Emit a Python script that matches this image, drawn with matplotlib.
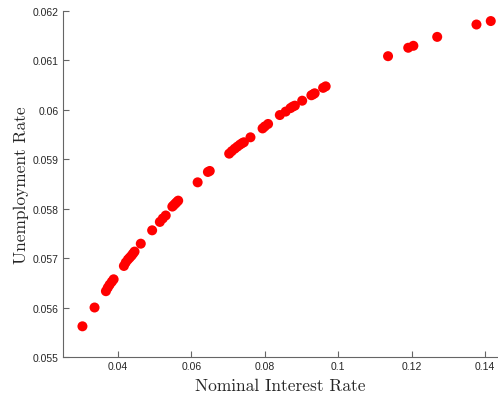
import matplotlib
matplotlib.use("Agg")
import matplotlib.pyplot as plt
from matplotlib.ticker import FuncFormatter, MultipleLocator

# Simulated steady states: nominal interest rate vs unemployment rate
nominal_rate = [
    0.0303, 0.0336, 0.0367, 0.0372, 0.0377, 0.0383, 0.0388,
    0.0416, 0.0421, 0.0427, 0.0432, 0.0437, 0.0441, 0.0445,
    0.0462, 0.0493, 0.0514, 0.0522, 0.0530,
    0.0548, 0.0552, 0.0556, 0.0560, 0.0564,
    0.0617, 0.0645, 0.0650,
    0.0703, 0.0710, 0.0718, 0.0725, 0.0732, 0.0738, 0.0743, 0.0761,
    0.0794, 0.0800, 0.0809, 0.0841, 0.0857, 0.0870, 0.0876, 0.0882,
    0.0902, 0.0927, 0.0932, 0.0936, 0.0959, 0.0966,
    0.1136, 0.1191, 0.1205, 0.1270, 0.1377, 0.1416,
]
unemployment = [
    0.05562, 0.05600, 0.05633, 0.05640, 0.05646, 0.05652, 0.05657,
    0.05684, 0.05691, 0.05697, 0.05701, 0.05705, 0.05709, 0.05713,
    0.05729, 0.05756, 0.05773, 0.05780, 0.05786,
    0.05804, 0.05807, 0.05810, 0.05813, 0.05816,
    0.05853, 0.05874, 0.05876,
    0.05911, 0.05916, 0.05921, 0.05925, 0.05929, 0.05932, 0.05934, 0.05944,
    0.05962, 0.05966, 0.05971, 0.05989, 0.05996, 0.06003, 0.06006, 0.06008,
    0.06018, 0.06029, 0.06031, 0.06033, 0.06044, 0.06047,
    0.06108, 0.06125, 0.06129, 0.06147, 0.06172, 0.06179,
]

fig = plt.figure(figsize=(4.98, 4.02), dpi=100)
ax = fig.add_axes([0.1265, 0.1095, 0.8715, 0.8615])

ax.scatter(nominal_rate, unemployment, s=52, color="#ff0000", edgecolors="none", zorder=3)

ax.set_xlim(0.025, 0.1433)
ax.set_ylim(0.055, 0.062)
ax.xaxis.set_major_locator(MultipleLocator(0.02))
ax.yaxis.set_major_locator(MultipleLocator(0.001))
fmt = FuncFormatter(lambda v, pos: "%g" % round(v, 6))
ax.xaxis.set_major_formatter(fmt)
ax.yaxis.set_major_formatter(fmt)

# box off, inward ticks
for side in ("top", "right"):
    ax.spines[side].set_visible(False)
for side in ("left", "bottom"):
    ax.spines[side].set_color("#666666")
    ax.spines[side].set_linewidth(0.8)
ax.tick_params(direction="in", length=4, width=0.8, color="#666666",
               labelsize=7.5, labelcolor="#262626", pad=3)
for lbl in ax.get_xticklabels() + ax.get_yticklabels():
    lbl.set_fontfamily("Liberation Sans")

ax.set_xlabel("Nominal Interest Rate", fontfamily="cmr10", fontsize=12.5,
              color="#262626", labelpad=5)
ax.set_ylabel("Unemployment Rate", fontfamily="cmr10", fontsize=12.5,
              color="#262626", labelpad=3)

fig.savefig("out.png", dpi=100)
